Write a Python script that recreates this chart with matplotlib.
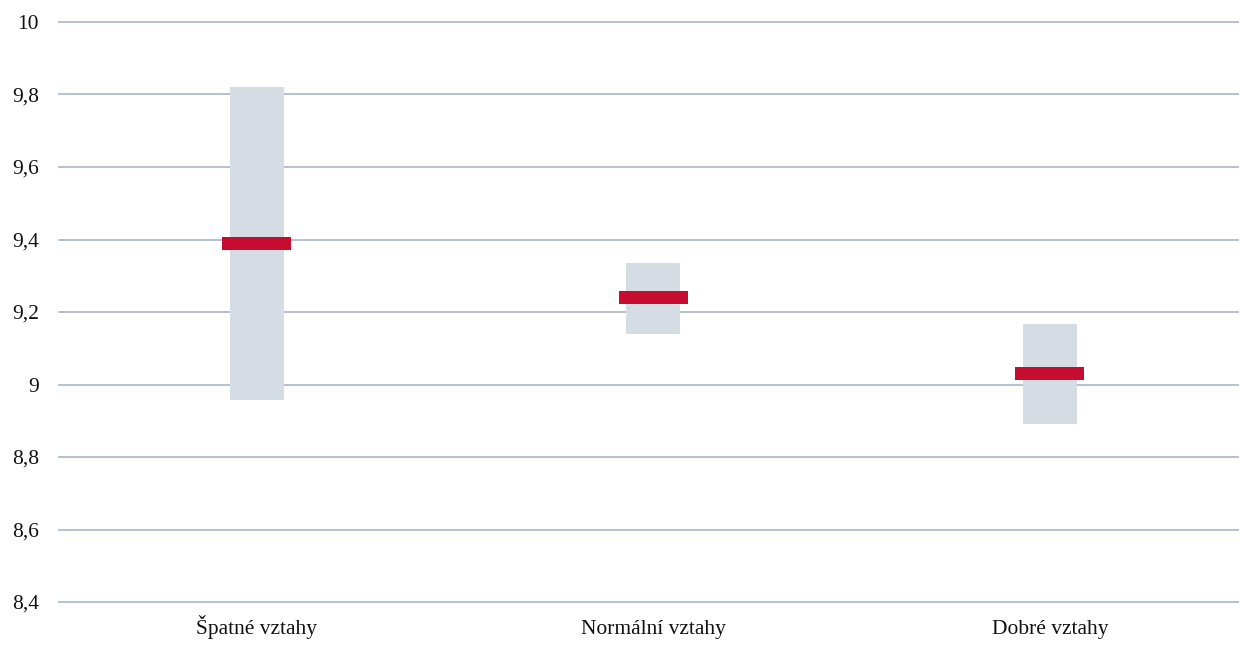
import matplotlib
matplotlib.use("Agg")
import matplotlib.pyplot as plt
import numpy as np

categories = ["Špatné vztahy", "Normální vztahy", "Dobré vztahy"]
range_low = [8.957, 9.139, 8.891]
range_high = [9.820, 9.336, 9.166]
mean_values = [9.388, 9.239, 9.030]
yticks = [8.4, 8.6, 8.8, 9.0, 9.2, 9.4, 9.6, 9.8, 10.0]
ytick_labels = ["8,4", "8,6", "8,8", "9", "9,2", "9,4", "9,6", "9,8", "10"]

plt.rcParams['font.family'] = ['Liberation Serif', 'DejaVu Serif']

W, H = 1239, 659
fig = plt.figure(figsize=(W / 100, H / 100), dpi=100)
left_px, right_px, top_px, bottom_px = 58.5, 1248, 22, 602
ax = fig.add_axes([left_px / W, 1 - bottom_px / H, (right_px - left_px) / W, (bottom_px - top_px) / H])

x = np.arange(len(categories))
low = np.array(range_low)
high = np.array(range_high)
ax.bar(x, high - low, bottom=low, width=0.136, color="#D5DCE4", zorder=2)

mark_h = 0.036
ax.bar(x, mark_h, bottom=np.array(mean_values) - mark_h / 2, width=0.173,
       color="#C60C30", zorder=3)

ax.set_xlim(-0.5, len(categories) - 0.5)
ax.set_ylim(8.4, 10.0)
ax.set_yticks(yticks)
ax.set_yticklabels(ytick_labels)
ax.set_xticks(x)
ax.set_xticklabels(categories, va='baseline')
ax.tick_params(axis='y', length=0, pad=14, labelsize=15.5, colors="#111111")
ax.tick_params(axis='x', length=0, pad=23, labelsize=15.5, colors="#111111")
ax.yaxis.grid(True, color="#A8B5CB", linewidth=1.2, zorder=1)
for gl in ax.yaxis.get_gridlines():
    gl.set_clip_on(False)
ax.set_axisbelow(True)
for s in ax.spines.values():
    s.set_visible(False)

fig.savefig("out.png", dpi=100)
